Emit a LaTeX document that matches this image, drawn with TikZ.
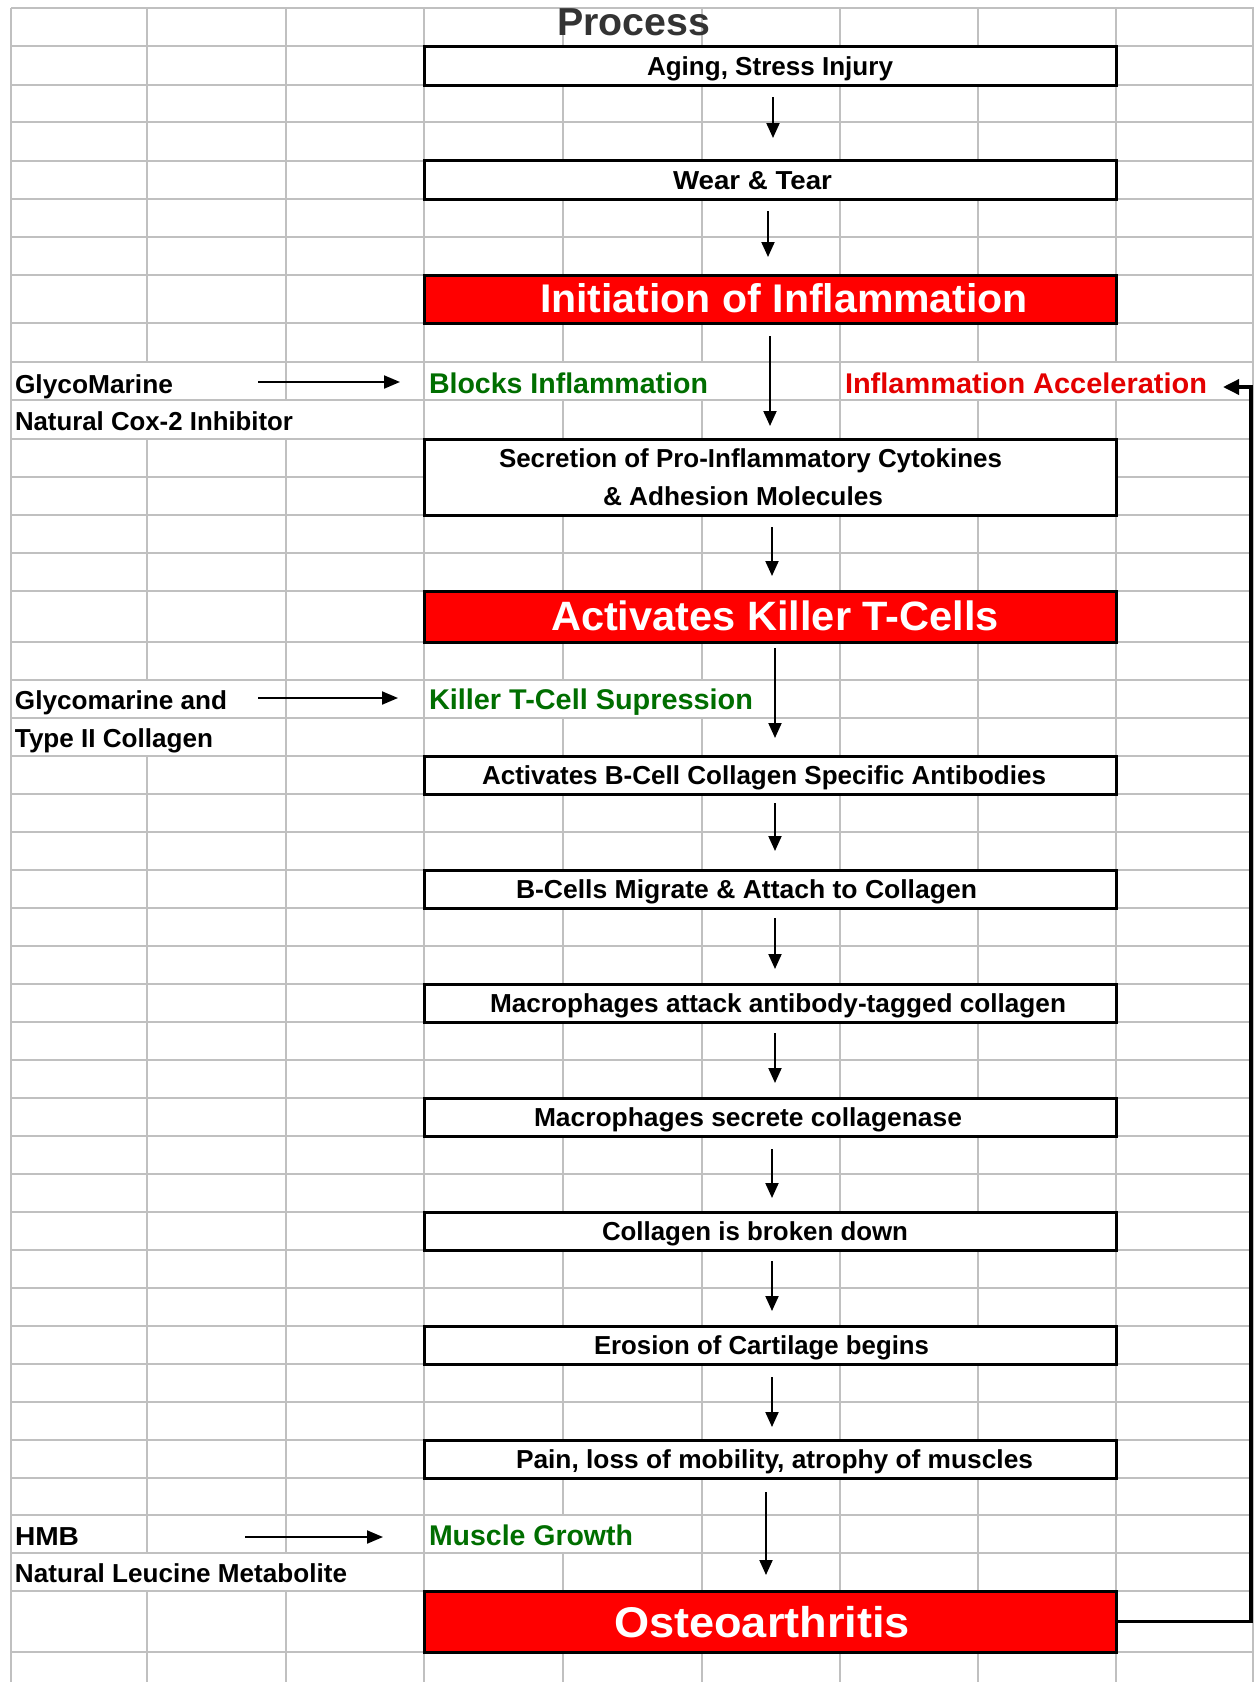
\documentclass[tikz,border=0pt]{standalone}
\usepackage{fontspec}
\setmainfont{Liberation Sans}
\usepackage{graphicx}
\usetikzlibrary{arrows.meta}
\definecolor{gridc}{RGB}{192,192,192}
\definecolor{boxred}{RGB}{255,0,0}
\definecolor{dgreen}{RGB}{0,110,0}
\definecolor{ared}{RGB}{228,0,0}
\definecolor{titlec}{RGB}{51,51,51}
\newcommand{\fw}[2]{\resizebox{#1}{\height}{#2}}
\begin{document}
\begin{tikzpicture}[x=1pt,y=-1pt,
  gridl/.style={draw=gridc,line width=2pt},
  pbox/.style={draw=black,line width=3pt,fill=white,rectangle,inner sep=0pt,outer sep=0pt,minimum width=692pt,anchor=north west},
  rbox/.style={pbox,fill=boxred},
  lbl/.style={inner sep=0pt,outer sep=0pt,anchor=base west,text=black,font=\bfseries\fontsize{26}{30}\selectfont},
  glbl/.style={lbl,text=dgreen,font=\bfseries\fontsize{28.5}{32}\selectfont},
  rlbl/.style={lbl,text=ared,font=\bfseries\fontsize{28.5}{32}\selectfont},
  wlbl/.style={lbl,text=white,font=\bfseries\fontsize{41}{46}\selectfont},
  varr/.style={draw=black,line width=2pt,-{Triangle[length=15pt,width=13pt]}},
  harr/.style={draw=black,line width=2pt,-{Triangle[length=16pt,width=13pt]}},
  conn/.style={draw=black,line width=3.5pt,-{Triangle[length=16pt,width=15pt]}}
]
\useasboundingbox (0,0) rectangle (1254,1682);
\fill[white] (0,0) rectangle (1254,1682);
% grid
\foreach \yy in {8,46,85,122,160.5,199,237,275,323,362,400,439,477,515,553,591,642,680,718,756,794,832,870,908,946,984,1022,1060,1098,1136,1174,1212,1250,1288,1326,1364,1402,1440,1478,1515,1553,1591,1652}
  \draw[gridl] (11,\yy) -- (1254,\yy);
\foreach \xx in {11,147,286,424,563,702,840,978,1116,1253}
  \draw[gridl] (\xx,8) -- (\xx,1682);
% hidden grid segments (text overflow)
\foreach \xx/\t/\b in {147/362/400,563/362/400,702/362/400,978/362/400,1116/362/400,
  147/400/439,286/400/439,147/680/718,563/680/718,702/680/718,147/718/756,
  563/1515/1553,147/1553/1591,286/1553/1591}
  \fill[white] (\xx-2.2,\t+1.2) rectangle (\xx+2.2,\b-1.2);
% title
\node[lbl,text=titlec,font=\bfseries\fontsize{39}{44}\selectfont] (title) at (557,35) {\fw{153pt}{Process}};
% boxes
\node[pbox,minimum height=39pt] (aging) at (424,46) {};
\node[pbox,minimum height=38.5pt] (wear) at (424,160.5) {};
\node[rbox,minimum height=48pt] (init) at (424,275) {};
\node[pbox,minimum height=76pt] (secr) at (424,439) {};
\node[rbox,minimum height=51pt] (killer) at (424,591) {};
\node[pbox,minimum height=38pt] (bcell) at (424,756) {};
\node[pbox,minimum height=38pt] (migrate) at (424,870) {};
\node[pbox,minimum height=38pt] (attack) at (424,984) {};
\node[pbox,minimum height=38pt] (secrete) at (424,1098) {};
\node[pbox,minimum height=38pt] (broken) at (424,1212) {};
\node[pbox,minimum height=38pt] (erosion) at (424,1326) {};
\node[pbox,minimum height=38pt] (pain) at (424,1440) {};
\node[rbox,minimum height=61pt] (osteo) at (424,1591) {};
% box texts
\node[lbl] (agingT) at (647,75) {\fw{246pt}{Aging, Stress Injury}};
\node[lbl] (wearT) at (673,189) {\fw{159pt}{Wear \& Tear}};
\node[wlbl,font=\bfseries\fontsize{40}{45}\selectfont] (initT) at (540,312) {\fw{488pt}{Initiation of Inflammation}};
\node[lbl] (secrT1) at (499,467) {\fw{503pt}{Secretion of Pro-Inflammatory Cytokines}};
\node[lbl] (secrT2) at (603,505) {\fw{280pt}{\& Adhesion Molecules}};
\node[wlbl] (killerT) at (551,630) {\fw{448pt}{Activates Killer T-Cells}};
\node[lbl] (bcellT) at (482,784.5) {\fw{564pt}{Activates B-Cell Collagen Specific Antibodies}};
\node[lbl] (migrateT) at (516,898.5) {\fw{461pt}{B-Cells Migrate \& Attach to Collagen}};
\node[lbl] (attackT) at (490,1012.5) {\fw{576pt}{Macrophages attack antibody-tagged collagen}};
\node[lbl] (secreteT) at (534,1126.5) {\fw{428pt}{Macrophages secrete collagenase}};
\node[lbl] (brokenT) at (602,1240.5) {\fw{306pt}{Collagen is broken down}};
\node[lbl] (erosionT) at (594,1354.5) {\fw{335pt}{Erosion of Cartilage begins}};
\node[lbl] (painT) at (516,1468.5) {\fw{517pt}{Pain, loss of mobility, atrophy of muscles}};
\node[wlbl,font=\bfseries\fontsize{43}{48}\selectfont] (osteoT) at (614,1637) {\fw{296pt}{Osteoarthritis}};
% side labels
\node[lbl] (glyco) at (15,393) {\fw{158pt}{GlycoMarine}};
\node[lbl] (cox) at (15,430) {\fw{278pt}{Natural Cox-2 Inhibitor}};
\node[glbl] (blocks) at (429,393) {\fw{279pt}{Blocks Inflammation}};
\node[rlbl] (accel) at (845,393) {\fw{362pt}{Inflammation Acceleration}};
\node[lbl] (glycoand) at (15,709.5) {\fw{212pt}{Glycomarine and}};
\node[lbl] (type2) at (15,747.5) {\fw{198pt}{Type II Collagen}};
\node[glbl] (killerS) at (429,709.5) {\fw{324pt}{Killer T-Cell Supression}};
\node[lbl] (hmb) at (15,1545) {\fw{64pt}{HMB}};
\node[lbl] (leucine) at (15,1582) {\fw{332pt}{Natural Leucine Metabolite}};
\node[glbl] (muscle) at (429,1545) {\fw{204pt}{Muscle Growth}};
% vertical arrows
\draw[varr,shorten <=12pt,shorten >=22.5pt] ([xshift=3pt]aging.south) -- ([xshift=3pt]wear.north);
\draw[varr,shorten <=12pt,shorten >=18pt] ([xshift=-2pt]wear.south) -- ([xshift=-2pt]init.north);
\draw[varr,shorten <=13pt,shorten >=13pt] (init.south) -- (secr.north);
\draw[varr,shorten <=12pt,shorten >=15pt] ([xshift=2pt]secr.south) -- ([xshift=2pt]killer.north);
\draw[varr,shorten <=6pt,shorten >=18pt] ([xshift=5pt]killer.south) -- ([xshift=5pt]bcell.north);
\draw[varr,shorten <=9pt,shorten >=19pt] ([xshift=5pt]bcell.south) -- ([xshift=5pt]migrate.north);
\draw[varr,shorten <=10pt,shorten >=15pt] ([xshift=5pt]migrate.south) -- ([xshift=5pt]attack.north);
\draw[varr,shorten <=11pt,shorten >=15pt] ([xshift=5pt]attack.south) -- ([xshift=5pt]secrete.north);
\draw[varr,shorten <=13pt,shorten >=14pt] ([xshift=2pt]secrete.south) -- ([xshift=2pt]broken.north);
\draw[varr,shorten <=11pt,shorten >=15pt] ([xshift=2pt]broken.south) -- ([xshift=2pt]erosion.north);
\draw[varr,shorten <=13pt,shorten >=13pt] ([xshift=2pt]erosion.south) -- ([xshift=2pt]pain.north);
\draw[varr,shorten <=14pt,shorten >=16pt] ([xshift=-4pt]pain.south) -- ([xshift=-4pt]osteo.north);
% horizontal arrows
\draw[harr,shorten <=85pt,shorten >=29pt] ([yshift=11pt]glyco.base east) -- ([yshift=11pt]glyco.base east -| blocks.west);
\draw[harr,shorten <=31pt,shorten >=31pt] ([yshift=11.5pt]glycoand.base east) -- ([yshift=11.5pt]glycoand.base east -| killerS.west);
\draw[harr,shorten <=166pt,shorten >=46pt] ([yshift=8pt]hmb.base east) -- ([yshift=8pt]hmb.base east -| muscle.west);
% feedback connector
\coordinate (cb) at (1251,1621.5);
\coordinate (ct) at (1251,387);
\coordinate (ctip) at (1223,387);
\draw[conn] (osteo.east) -- (cb) -- (ct) -- (ctip);
\end{tikzpicture}
\end{document}
